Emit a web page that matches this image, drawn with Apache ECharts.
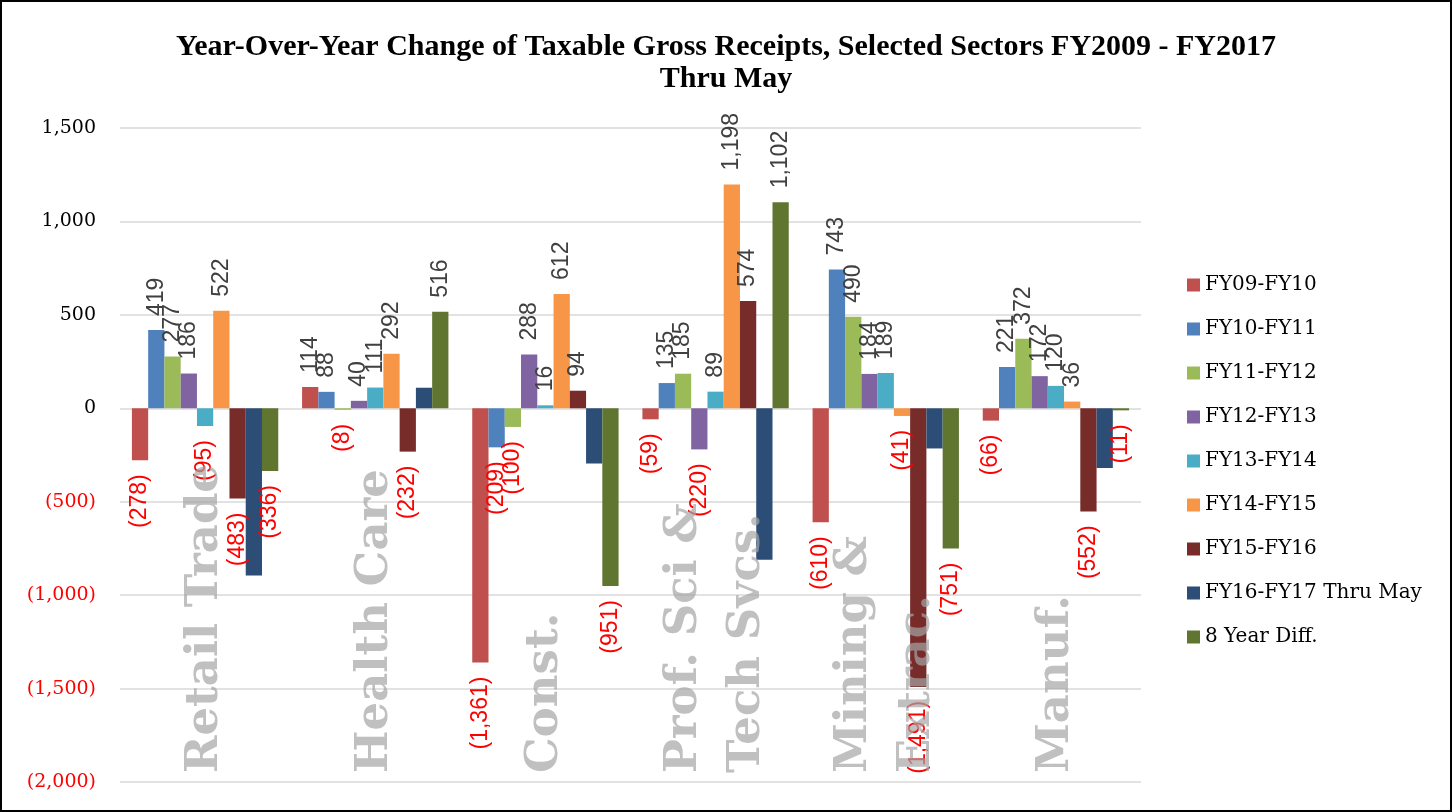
<!DOCTYPE html>
<html>
<head>
<meta charset="utf-8">
<script src="https://cdn.jsdelivr.net/npm/echarts@6/dist/echarts.min.js"></script>
<style>
  html, body { margin: 0; padding: 0; background: #fff; }
  #main { width: 1452px; height: 812px; }
</style>
</head>
<body>
<div id="main"></div>
<script>
// sectors
var categories = ['Retail Trade', 'Health Care', 'Const.', 'Prof. Sci &\nTech Svcs.', 'Mining &\nExtrac.', 'Manuf.'];

var seriesNames = ['FY09-FY10', 'FY10-FY11', 'FY11-FY12', 'FY12-FY13', 'FY13-FY14',
                   'FY14-FY15', 'FY15-FY16', 'FY16-FY17 Thru May', '8 Year Diff.'];

var fy09_10 = [-278, 114, -1361, -59, -610, -66];
var fy10_11 = [419, 88, -209, 135, 743, 221];
var fy11_12 = [277, -8, -100, 185, 490, 372];
var fy12_13 = [186, 40, 288, -220, 184, 172];
var fy13_14 = [-95, 111, 16, 89, 189, 120];
var fy14_15 = [522, 292, 612, 1198, -41, 36];
var fy15_16 = [-483, -232, 94, 574, -1491, -552];
var fy16_17 = [-895, 110, -296, -810, -215, -320];
var diff8yr = [-336, 516, -951, 1102, -751, -11];

var yTicks = [-2000, -1500, -1000, -500, 0, 500, 1000, 1500];

var colors = ['#c0504d', '#4f81bd', '#9bbb59', '#8064a2', '#4bacc6',
              '#f79646', '#772c2a', '#2c4d75', '#5f7530'];

var allData = [fy09_10, fy10_11, fy11_12, fy12_13, fy13_14, fy14_15, fy15_16, fy16_17, diff8yr];

function fmt(v) {
    var s = Math.abs(v).toLocaleString('en-US');
    return v < 0 ? '(' + s + ')' : s;
}

var myChart = echarts.init(document.getElementById('main'));

var series = allData.map(function (arr, i) {
    return {
        name: seriesNames[i],
        type: 'bar',
        color: colors[i],
        barGap: 0,
        barCategoryGap: '14%',
        label: {
            show: i !== 7,   // no labels on the Thru May bars
            rotate: 90,
            verticalAlign: 'middle',
            distance: 14,
            fontSize: 23,
            fontFamily: 'Liberation Sans',
            formatter: function (p) { return fmt(p.value); }
        },
        data: arr.map(function (v) {
            return {
                value: v,
                label: v < 0
                    ? { position: 'bottom', align: 'right', color: '#ff0000' }
                    : { position: 'top', align: 'left', color: '#404040' }
            };
        })
    };
});

option = {
    animation: false,
    backgroundColor: '#fff',
    title: {
        text: 'Year-Over-Year Change of Taxable Gross Receipts, Selected Sectors FY2009 - FY2017\nThru May',
        left: 'center',
        top: 26,
        textStyle: {
            fontFamily: 'Liberation Serif',
            fontWeight: 'bold',
            fontSize: 30,
            lineHeight: 32,
            color: '#000'
        }
    },
    legend: {
        orient: 'vertical',
        left: 1182,
        top: 270,
        icon: 'rect',
        itemWidth: 13,
        itemHeight: 13,
        itemGap: 24,
        textStyle: {
            fontFamily: 'DejaVu Serif',
            fontSize: 20,
            lineHeight: 20,
            color: '#000'
        },
        data: seriesNames
    },
    grid: {
        left: 120,
        right: 311,
        top: 128,
        bottom: 30
    },
    xAxis: {
        type: 'category',
        data: categories,
        z: 10,
        axisLine: { show: false },
        axisTick: { show: false },
        axisLabel: {
            inside: true,
            rotate: 90,
            margin: 9,
            fontSize: 45,
            lineHeight: 63,
            fontFamily: 'DejaVu Serif',
            fontWeight: 'bold',
            color: 'rgba(165,165,165,0.7)'
        }
    },
    yAxis: {
        type: 'value',
        min: yTicks[0],
        max: yTicks[yTicks.length - 1],
        interval: 500,
        axisLine: { show: false },
        axisTick: { show: false },
        splitLine: { lineStyle: { color: '#d9d9d9', width: 1.5 } },
        axisLabel: {
            margin: 24,
            fontSize: 19,
            fontFamily: 'DejaVu Serif',
            formatter: function (v) { return fmt(v); },
            color: function (v) { return v < 0 ? '#ff0000' : '#000'; }
        }
    },
    graphic: [{
        type: 'rect',
        silent: true,
        shape: { x: 1, y: 1, width: 1450, height: 810 },
        style: { fill: 'none', stroke: '#000', lineWidth: 2 }
    }],
    series: series
};

myChart.setOption(option);
</script>
</body>
</html>
